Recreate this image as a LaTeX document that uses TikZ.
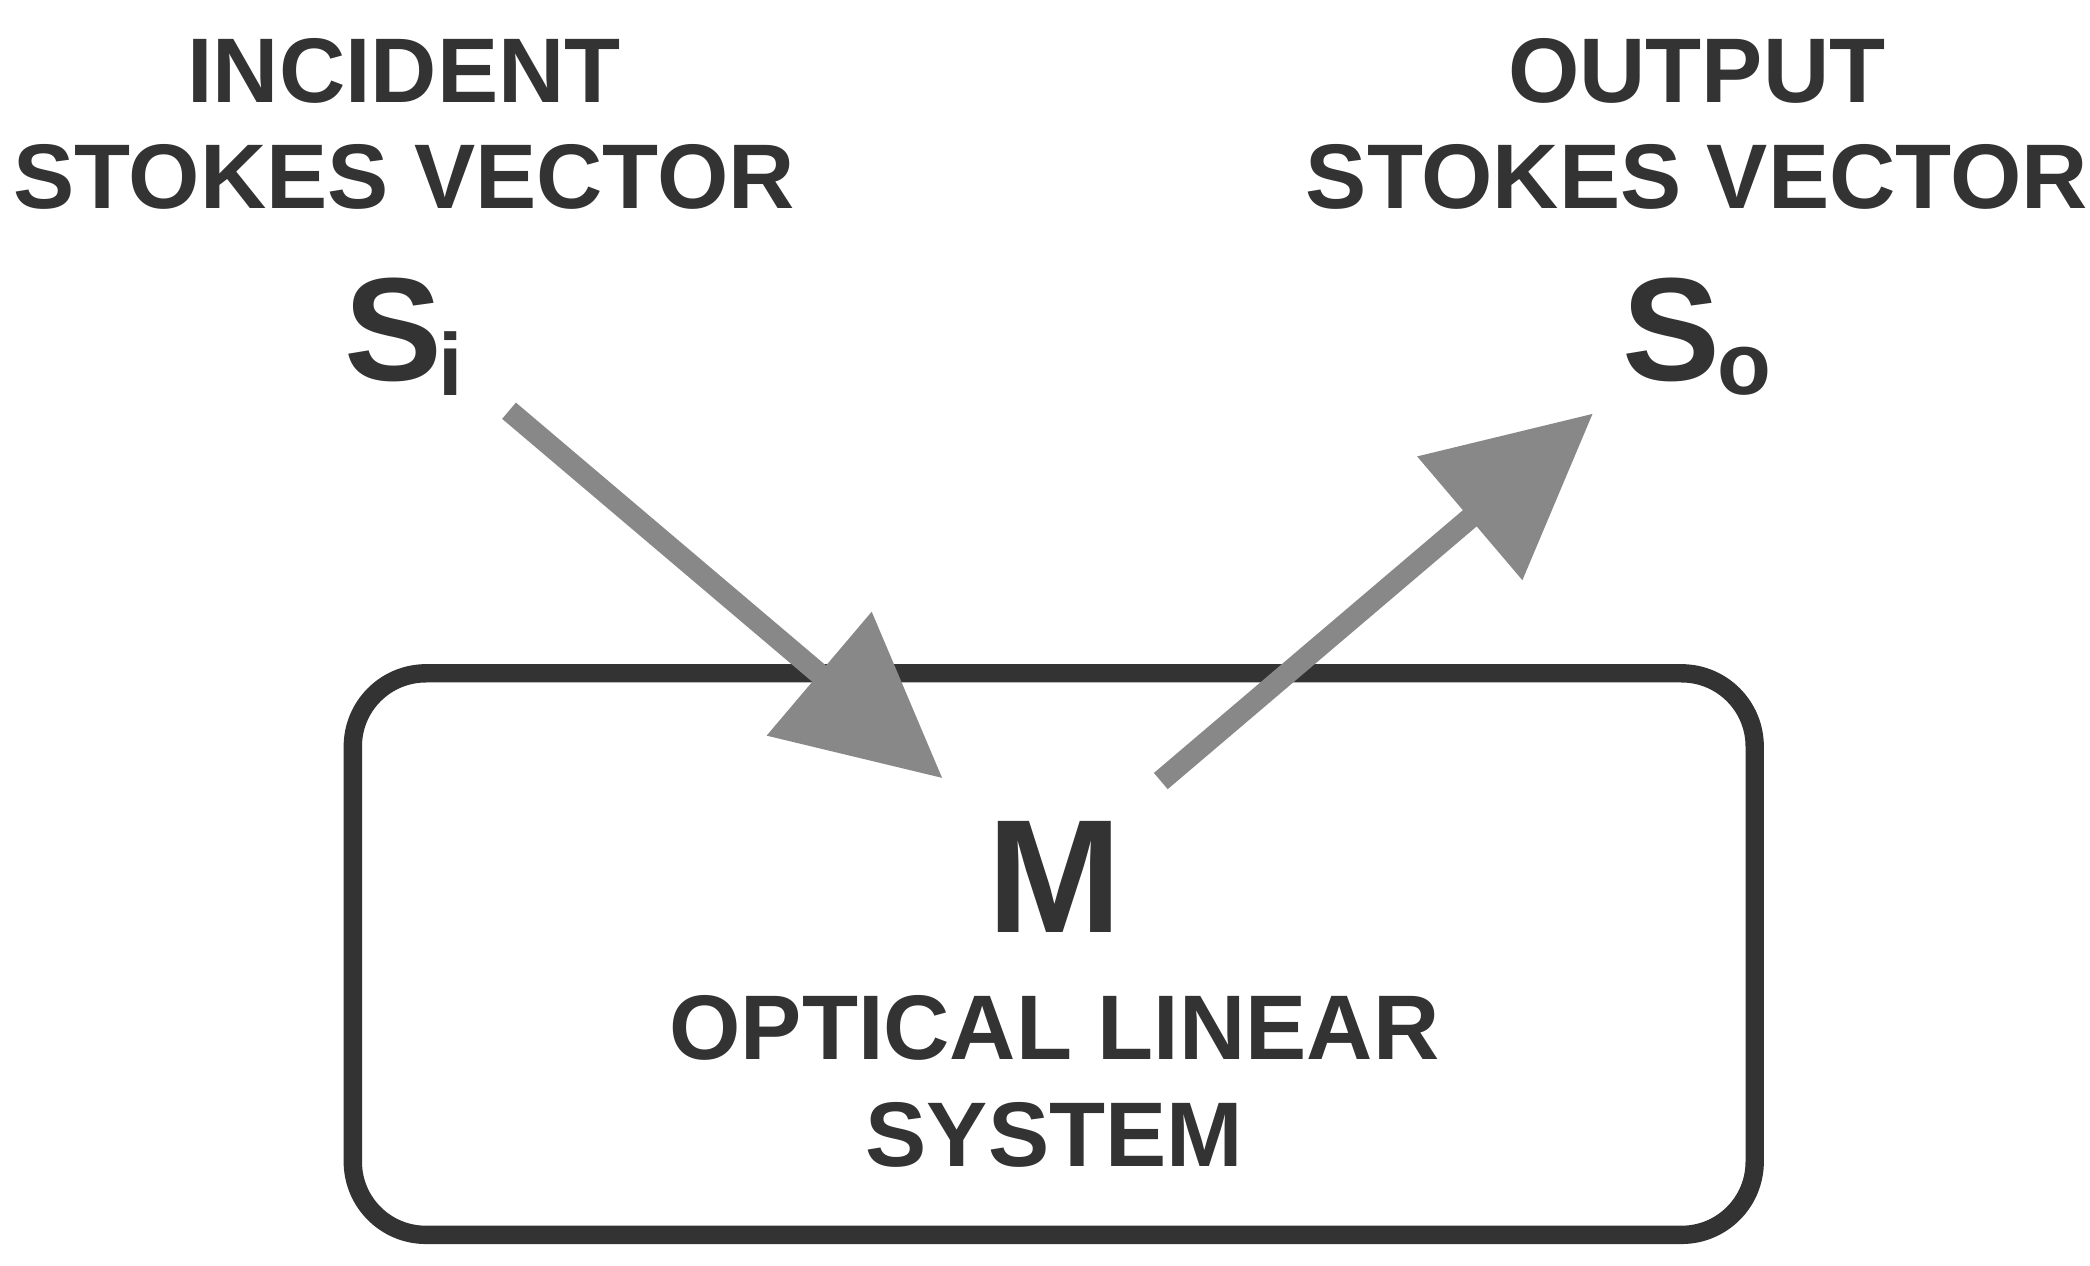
\documentclass[tikz,border=0pt]{standalone}
\usepackage{fontspec}
\setmainfont{Liberation Sans}
\usetikzlibrary{arrows.meta}
\definecolor{dk}{HTML}{333333}
\definecolor{ar}{HTML}{888888}
\begin{document}
\begin{tikzpicture}[x=0.01289cm,y=-0.01289cm,
  lab/.style={text=dk,font=\fontsize{25}{29}\selectfont\bfseries,align=center},
  big/.style={text=dk,font=\fontsize{40}{44}\selectfont\bfseries},
  arr/.style={draw=ar,line width=5.8pt,-{Triangle[length=1.55cm,width=1.5cm]}}]
\useasboundingbox (0,0) rectangle (1552,940);
\draw[dk,line width=5pt,rounded corners=0.7cm] (262,500) rectangle (1303,917);
\node[lab] (inc) at (300,92) {INCIDENT\\STOKES VECTOR};
\node[lab] (out) at (1260,92) {OUTPUT\\STOKES VECTOR};
\node[big] (si) at (300,250) {S\kern-1pt\raisebox{-4pt}{\fontsize{24}{24}\selectfont i}};
\node[big] (so) at (1260,250) {S\kern-1pt\raisebox{-4pt}{\fontsize{24}{24}\selectfont o}};
\node[text=dk,font=\fontsize{44}{48}\selectfont\bfseries] (m) at (783,651) {M};
\node[lab] (ols) at (783,803) {OPTICAL LINEAR\\SYSTEM};
\coordinate (a1) at (378,305); \coordinate (t1) at (700,578);
\coordinate (a2) at (862,580); \coordinate (t2) at (1183,307);
\draw[arr] (a1) -- (t1);
\draw[arr] (a2) -- (t2);
\end{tikzpicture}
\end{document}
